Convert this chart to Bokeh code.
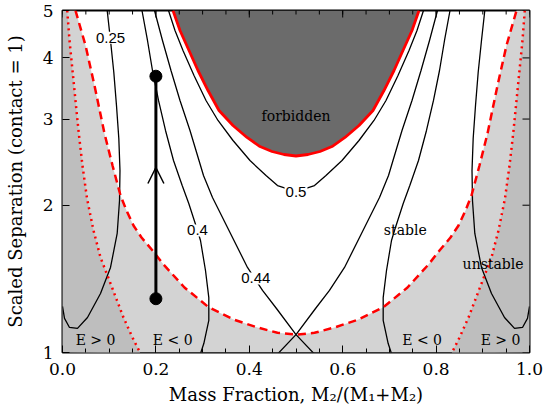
import math
from bokeh.plotting import figure
from bokeh.models import (Range1d, FixedTicker, Label, Arrow, OpenHead,
                          PrintfTickFormatter, ColumnDataSource)
from bokeh.core.properties import value
from bokeh.embed import file_html
from bokeh.resources import INLINE

# ---------------- axes ----------------
x_ticks = [0.0, 0.2, 0.4, 0.6, 0.8, 1.0]
x_minor_ticks = [0.0, 0.05, 0.1, 0.15, 0.2, 0.25, 0.3, 0.35, 0.4, 0.45, 0.5,
                 0.55, 0.6, 0.65, 0.7, 0.75, 0.8, 0.85, 0.9, 0.95, 1.0]
y_ticks = [1, 2, 3, 4, 5]

# ---------------- boundaries ----------------
forbidden_q = [0.2366, 0.2516, 0.2709, 0.2901, 0.3116, 0.3351, 0.3651, 0.3951, 0.4229,
               0.4486, 0.4743, 0.5, 0.5257, 0.5514, 0.5771, 0.6049, 0.6349, 0.6649,
               0.6884, 0.7099, 0.7291, 0.7484, 0.7634]
forbidden_a = [5.0, 4.551, 4.143, 3.770, 3.431, 3.123, 2.910, 2.751, 2.636, 2.575, 2.539,
               2.521, 2.539, 2.575, 2.636, 2.751, 2.910, 3.123, 3.431, 3.770, 4.143,
               4.551, 5.0]

dashed_q = [0.0278, 0.0493, 0.0685, 0.0899, 0.1071, 0.1242, 0.1370, 0.1520, 0.1692,
            0.1927, 0.2163, 0.2612, 0.3126, 0.3662, 0.4176, 0.4604, 0.5, 0.5396,
            0.5824, 0.6338, 0.6874, 0.7388, 0.7837, 0.8073, 0.8308, 0.8480, 0.8630,
            0.8758, 0.8929, 0.9101, 0.9315, 0.9507, 0.9722]
dashed_a = [5.0, 4.241, 3.513, 2.803, 2.411, 2.094, 1.951, 1.818, 1.718, 1.616, 1.513,
            1.358, 1.238, 1.168, 1.125, 1.097, 1.088, 1.097, 1.125, 1.168, 1.238,
            1.358, 1.513, 1.616, 1.718, 1.818, 1.951, 2.094, 2.411, 2.803, 3.513,
            4.241, 5.0]

dotted_a = [5.0, 4.342, 3.824, 3.274, 2.803, 2.411, 2.064, 1.776, 1.564, 1.384, 1.179,
            1.073, 0.995]
dotted_left_q = [0.0101, 0.0150, 0.0208, 0.0278, 0.0349, 0.0428, 0.0525, 0.0664,
                 0.0814, 0.1028, 0.1306, 0.1499, 0.1670]
dotted_right_q = [0.9899, 0.9850, 0.9792, 0.9722, 0.9651, 0.9572, 0.9475, 0.9336,
                  0.9186, 0.8972, 0.8694, 0.8501, 0.8330]

# ---------------- contours ----------------
c050_q = [0.2270, 0.2409, 0.2580, 0.2816, 0.3073, 0.3330, 0.3651, 0.4015, 0.4358,
          0.4604, 0.5, 0.5396, 0.5642, 0.5985, 0.6349, 0.6670, 0.6927, 0.7184,
          0.7420, 0.7591, 0.7730]
c050_a = [5.0, 4.551, 4.143, 3.682, 3.274, 2.980, 2.712, 2.468, 2.300, 2.194, 2.133,
          2.194, 2.300, 2.468, 2.712, 2.980, 3.274, 3.682, 4.143, 4.551, 5.0]

c044_a = [5.0, 4.342, 3.770, 3.274, 2.843, 2.468, 2.300, 2.074, 1.801, 1.492, 1.339,
          1.230, 1.088, 0.995]
c044_left_q = [0.1970, 0.2141, 0.2323, 0.2516, 0.2730, 0.2923, 0.3019, 0.3212, 0.3533,
               0.3961, 0.4283, 0.4582, 0.5, 0.5385]
c044_right_q = [0.8030, 0.7859, 0.7677, 0.7484, 0.7270, 0.7077, 0.6981, 0.6788, 0.6467,
                0.6039, 0.5717, 0.5418, 0.5, 0.4615]

c040_a = [5.0, 4.342, 3.770, 3.274, 2.843, 2.468, 2.194, 2.016, 1.776, 1.694, 1.471,
          1.295, 1.163, 1.043, 0.995]
c040_left_q = [0.1702, 0.1820, 0.1927, 0.2056, 0.2206, 0.2377, 0.2563, 0.2704, 0.2891,
               0.2955, 0.3062, 0.3133, 0.3133, 0.3026, 0.2955]
c040_right_q = [0.8298, 0.8180, 0.8073, 0.7944, 0.7794, 0.7623, 0.7437, 0.7296, 0.7109,
                0.7045, 0.6938, 0.6867, 0.6867, 0.6974, 0.7045]

c025_a = [5.0, 4.342, 3.734, 3.198, 2.738, 2.355, 2.045, 1.751, 1.492, 1.320, 1.179,
          1.120, 1.125, 1.174, 1.242]
c025_left_q = [0.0957, 0.1028, 0.1099, 0.1156, 0.1206, 0.1231, 0.1221, 0.1171, 0.1028,
               0.0814, 0.0535, 0.0321, 0.0150, 0.0043, 0.0]
c025_right_q = [0.9043, 0.8972, 0.8901, 0.8844, 0.8794, 0.8769, 0.8779, 0.8829, 0.8972,
                0.9186, 0.9465, 0.9679, 0.9850, 0.9957, 1.0]

# ---------------- evolution track ----------------
track_q = [0.2, 0.2]
track_a = [1.288, 3.67]
track_head_a = 2.388

# ---------------- labels ----------------
contour_label_text = ["0.25", "0.4", "0.44", "0.5"]
contour_label_q = [0.103, 0.289, 0.414, 0.5]
contour_label_a = [4.40, 1.776, 1.417, 2.133]

region_text = ["forbidden", "stable", "unstable", "E > 0", "E < 0", "E < 0", "E > 0"]
region_q = [0.5, 0.734, 0.922, 0.0707, 0.236, 0.770, 0.938]
region_a = [3.05, 1.776, 1.52, 1.063, 1.063, 1.063, 1.063]

LIGHT = "#d3d3d3"
DARK = "#bebebe"
FORB = "#6b6b6b"
SERIF = "DejaVu Serif"
TICK_FS = "17px"
TITLE_FS = "18px"

# Bokeh's page template has no body margin, so the figure fills the window
p = figure(width=543, height=412, x_range=Range1d(0, 1), y_range=Range1d(1, 5),
           y_axis_type="log", output_backend="svg", toolbar_location=None,
           min_border_left=62, min_border_right=14, min_border_top=10,
           min_border_bottom=60)
p.xgrid.visible = False
p.ygrid.visible = False
p.outline_line_color = "black"
p.outline_line_width = 2
p.outline_line_alpha = 1.0
p.background_fill_color = "white"
p.border_fill_color = "white"

# region fills
p.patch([0, 0, 1, 1] + dashed_q[::-1], [5, 1, 1, 5] + dashed_a[::-1],
        fill_color=LIGHT, line_color=None)
p.patch([0, 0] + dotted_left_q[::-1], [5, 1] + dotted_a[::-1],
        fill_color=DARK, line_color=None)
p.patch([1, 1] + dotted_right_q[::-1], [5, 1] + dotted_a[::-1],
        fill_color=DARK, line_color=None)

# contours
cw = 1.3
for qs, aa in [(c050_q, c050_a), (c044_left_q, c044_a), (c044_right_q, c044_a),
               (c040_left_q, c040_a), (c040_right_q, c040_a),
               (c025_left_q, c025_a), (c025_right_q, c025_a)]:
    p.line(qs, aa, line_color="black", line_width=cw)

# boundaries
p.line(dashed_q, dashed_a, line_color="red", line_width=2.5, line_dash="8 5")
p.line(dotted_left_q, dotted_a, line_color="red", line_width=2.5, line_dash="2 4")
p.line(dotted_right_q, dotted_a, line_color="red", line_width=2.5, line_dash="2 4")
p.patch(forbidden_q, forbidden_a, fill_color=FORB, line_color=None)
p.line(forbidden_q, forbidden_a, line_color="red", line_width=2.8)

# evolution track
p.line(track_q, track_a, line_color="black", line_width=3)
p.scatter(track_q, track_a, size=12, color="black")
p.add_layout(Arrow(end=OpenHead(size=16, line_width=1.5, line_color="black"),
                   x_start=track_q[0], y_start=track_head_a * 0.95,
                   x_end=track_q[0], y_end=track_head_a, line_alpha=0))

# contour labels
for t, xq, ya in zip(contour_label_text, contour_label_q, contour_label_a):
    p.add_layout(Label(x=xq, y=ya, text=t, text_align="center", text_baseline="middle",
                       text_font="Liberation Sans", text_font_size="15px",
                       text_color="black", background_fill_color="white", padding=1))

# region texts
src = ColumnDataSource(dict(x=region_q, y=region_a, t=region_text))
p.text(x="x", y="y", text="t", source=src, text_align="center", text_baseline="middle",
       text_font=value(SERIF), text_font_size="14px", text_color="black")

# mirrored inward ticks on top and right edges (half of each dash is clipped)
p.scatter(x_ticks, [5] * len(x_ticks), marker="dash", angle=math.pi / 2, size=14,
          line_color="black", line_width=1)
p.scatter(x_minor_ticks, [5] * len(x_minor_ticks), marker="dash", angle=math.pi / 2,
          size=8, line_color="black", line_width=1)
p.scatter([1] * len(y_ticks), y_ticks, marker="dash", size=14,
          line_color="black", line_width=1)

# main axes
for ax in (p.xaxis[0], p.yaxis[0]):
    ax.axis_line_color = None
    ax.major_tick_in = 7
    ax.major_tick_out = 0
    ax.minor_tick_in = 4
    ax.minor_tick_out = 0
    ax.major_tick_line_color = "black"
    ax.minor_tick_line_color = "black"
    ax.major_label_text_font = SERIF
    ax.major_label_text_font_size = TICK_FS
    ax.major_label_text_color = "black"
    ax.axis_label_text_font = SERIF
    ax.axis_label_text_font_size = TITLE_FS
    ax.axis_label_text_font_style = "normal"
    ax.axis_label_text_color = "black"

xa = p.xaxis[0]
xa.ticker = FixedTicker(ticks=x_ticks, minor_ticks=x_minor_ticks)
xa.formatter = PrintfTickFormatter(format="%.1f")
xa.axis_label = "Mass Fraction, M\u2082/(M\u2081+M\u2082)"
xa.major_label_standoff = 10
xa.axis_label_standoff = 6

ya_ = p.yaxis[0]
ya_.ticker = FixedTicker(ticks=y_ticks, minor_ticks=[])
ya_.formatter = PrintfTickFormatter(format="%d")
ya_.axis_label = "Scaled Separation (contact = 1)"
ya_.major_label_standoff = 9
ya_.axis_label_standoff = 14

open("out.html", "w").write(file_html(p, INLINE))
